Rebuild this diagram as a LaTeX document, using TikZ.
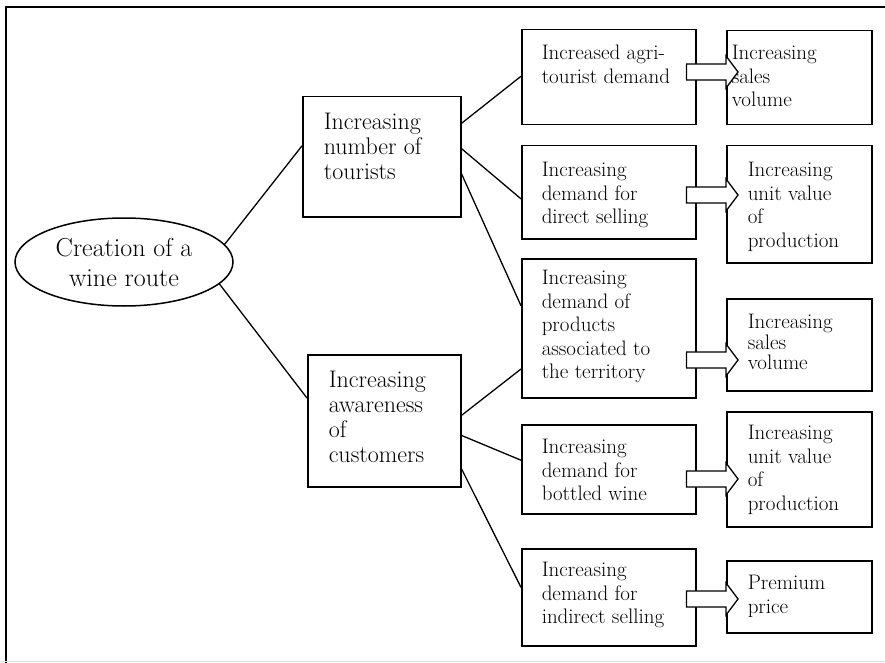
\documentclass[tikz,border=0pt]{standalone}
\usepackage{fontspec}
\setmainfont{Latin Modern Roman}
\usetikzlibrary{calc,shapes.geometric}

% text block with fixed size, left and top padding
\newcommand\boxtxt[5]{\parbox[c][#2][t]{#1}{\raggedright\leftskip=#3\relax
  \vspace*{#4}\rule{0pt}{20pt}#5}}

% hollow block arrow from the right side of #1 to the left side of #2 at height #3
\newcommand\flowarrow[3]{%
  \path (#1.east |- 0,#3) coordinate (fa-s) (#2.west |- 0,#3) coordinate (fa-t);
  \draw[blockarr] ([shift={(-10,-8)}]fa-s) -- ([shift={(0,-8)}]fa-t)
    -- ([shift={(0,-16)}]fa-t) -- ([shift={(12,0)}]fa-t) -- ([shift={(0,16)}]fa-t)
    -- ([shift={(0,8)}]fa-t) -- ([shift={(-10,8)}]fa-s) -- cycle;}

\tikzset{
  frameline/.style={line width=1.6pt},
  rbox/.style={draw, rectangle, line width=1.5pt, inner sep=0pt, anchor=north west,
    font=\fontsize{21}{23.5}\selectfont},
  bigbox/.style={rbox, font=\fontsize{24}{25}\selectfont},
  link/.style={line width=1.3pt},
  blockarr/.style={draw, fill=white, line width=1.3pt, line join=miter},
}

\begin{document}
\begin{tikzpicture}[x=1pt,y=-1pt]
\useasboundingbox (0,0) rectangle (885,663);

% outer frame
\coordinate (fr-tl) at (6,7);
\coordinate (fr-tr) at (885,7);
\coordinate (fr-bl) at (6,663);
\draw[frameline] (fr-tr) -- (fr-tl) -- (fr-bl);
\coordinate (fr-b1) at (0,661.5);
\coordinate (fr-b2) at (885,661.5);
\draw[gray!25, line width=0.8pt] (fr-b1) -- (fr-b2);

% root
\node[draw, ellipse, line width=1.5pt, minimum width=218pt, minimum height=88pt,
  inner sep=0pt, align=center, font=\fontsize{26}{30}\selectfont]
  (wine) at (124,262) {Creation of a\\wine route};

% second level
\node[bigbox] (tour) at (302,96)
  {\boxtxt{158pt}{120pt}{21pt}{12.7pt}{Increasing\\number of\\tourists}};
\node[bigbox] (aware) at (307,354)
  {\boxtxt{153pt}{132pt}{21pt}{12.7pt}{Increasing\\awareness\\of\\customers}};

% third level
\node[rbox] (c3a) at (521,29)
  {\boxtxt{174pt}{95pt}{20pt}{10pt}{Increased agri-\\tourist demand}};
\node[rbox] (c3b) at (521,145)
  {\boxtxt{174pt}{93pt}{20pt}{11pt}{Increasing\\demand for\\direct selling}};
\node[rbox] (c3c) at (521,258)
  {\boxtxt{174pt}{139pt}{20pt}{6pt}{Increasing\\demand of\\products\\associated to\\the territory}};
\node[rbox] (c3d) at (521,424)
  {\boxtxt{174pt}{89pt}{20pt}{9pt}{Increasing\\demand for\\bottled wine}};
\node[rbox] (c3e) at (521,548)
  {\boxtxt{174pt}{97pt}{20pt}{8pt}{Increasing\\demand for\\indirect selling}};

% outcomes
\node[rbox] (c4a) at (726,30)
  {\boxtxt{145pt}{94pt}{5pt}{9pt}{Increasing\\sales\\volume}};
\node[rbox] (c4b) at (726,145)
  {\boxtxt{145pt}{117pt}{21pt}{11pt}{Increasing\\unit value\\of\\production}};
\node[rbox, font=\fontsize{21}{20.5}\selectfont] (c4c) at (726,298)
  {\boxtxt{145pt}{92pt}{21pt}{10pt}{Increasing\\sales\\volume}};
\node[rbox] (c4d) at (726,411)
  {\boxtxt{145pt}{115pt}{21pt}{8pt}{Increasing\\unit value\\of\\production}};
\node[rbox] (c4e) at (726,560)
  {\boxtxt{145pt}{72pt}{21pt}{9pt}{Premium\\price}};

% connectors
\draw[link] (wine.10) -- ($(tour.north west)!0.41!(tour.south west)$);
\draw[link] (wine.-13) -- ($(aware.north west)!0.33!(aware.south west)$);

\draw[link] ($(tour.north east)!0.225!(tour.south east)$) -- ($(c3a.north west)!0.49!(c3a.south west)$);
\draw[link] ($(tour.north east)!0.433!(tour.south east)$) -- ($(c3b.north west)!0.57!(c3b.south west)$);
\draw[link] ($(tour.north east)!0.64!(tour.south east)$) -- ($(c3c.north west)!0.34!(c3c.south west)$);

\draw[link] ($(aware.north east)!0.46!(aware.south east)$) -- ($(c3c.north west)!0.79!(c3c.south west)$);
\draw[link] ($(aware.north east)!0.61!(aware.south east)$) -- ($(c3d.north west)!0.40!(c3d.south west)$);
\draw[link] ($(aware.north east)!0.86!(aware.south east)$) -- ($(c3e.north west)!0.40!(c3e.south west)$);

% block arrows
\flowarrow{c3a}{c4a}{72}
\flowarrow{c3b}{c4b}{195}
\flowarrow{c3c}{c4c}{360}
\flowarrow{c3d}{c4d}{479}
\flowarrow{c3e}{c4e}{599}
\end{tikzpicture}
\end{document}
